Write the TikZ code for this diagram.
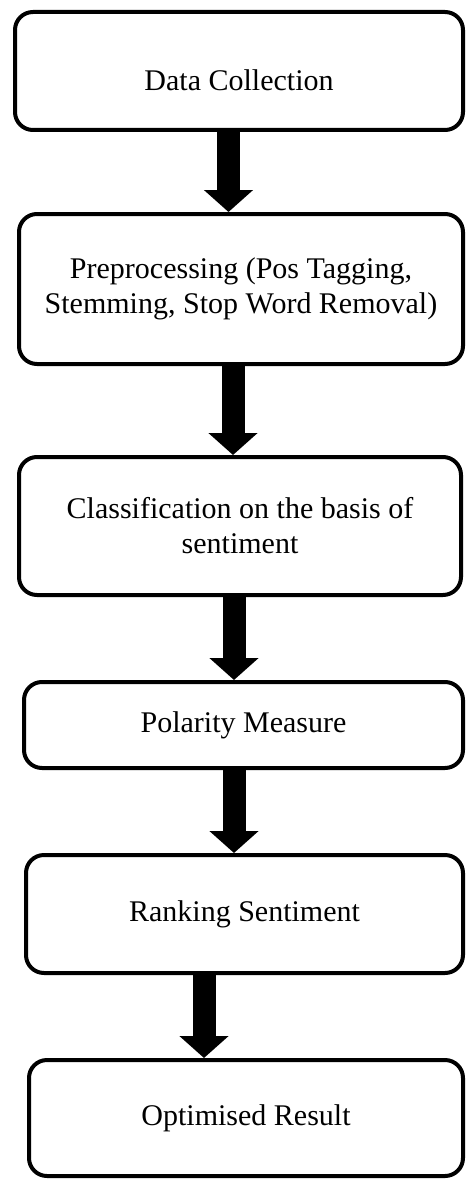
\documentclass[tikz,border=0pt]{standalone}
\usepackage{fontspec}
\setmainfont{Liberation Serif}
\usetikzlibrary{arrows.meta}

\begin{document}
\begin{tikzpicture}[x=1pt, y=-1pt,
  stepbox/.style={draw, line width=4pt, rounded corners=18pt, align=center, inner sep=0pt,
    font=\fontsize{30}{35}\selectfont},
  flowarrow/.style={line width=23pt, -{Triangle[length=22pt,width=48pt]}}]
  \useasboundingbox (0,0) rectangle (466,1180);
  % stages
  \node[stepbox, minimum width=448pt, minimum height=118pt, text height=40pt] (collect) at (239,71) {Data Collection};
  \node[stepbox, minimum width=444pt, minimum height=150pt] (preproc) at (241,289) {Preprocessing (Pos Tagging,\\Stemming, Stop Word Removal)};
  \node[stepbox, minimum width=442pt, minimum height=138pt] (classify) at (240,526) {Classification on the basis of\\sentiment};
  \node[stepbox, minimum width=439pt, minimum height=86pt] (polarity) at (243.5,725) {Polarity Measure};
  \node[stepbox, minimum width=437pt, minimum height=118pt] (ranking) at (244.5,914) {Ranking Sentiment};
  \node[stepbox, minimum width=434pt, minimum height=116pt] (result) at (246,1118) {Optimised Result};
  % arrows between stages
  \foreach \a/\b/\x in {collect/preproc/228.5, preproc/classify/233, classify/polarity/234, polarity/ranking/234, ranking/result/204} {
    \coordinate (ax-\a) at (\x,0);
    \draw[flowarrow] (\a.south -| ax-\a) -- (\b.north -| ax-\a);
  }
\end{tikzpicture}
\end{document}
